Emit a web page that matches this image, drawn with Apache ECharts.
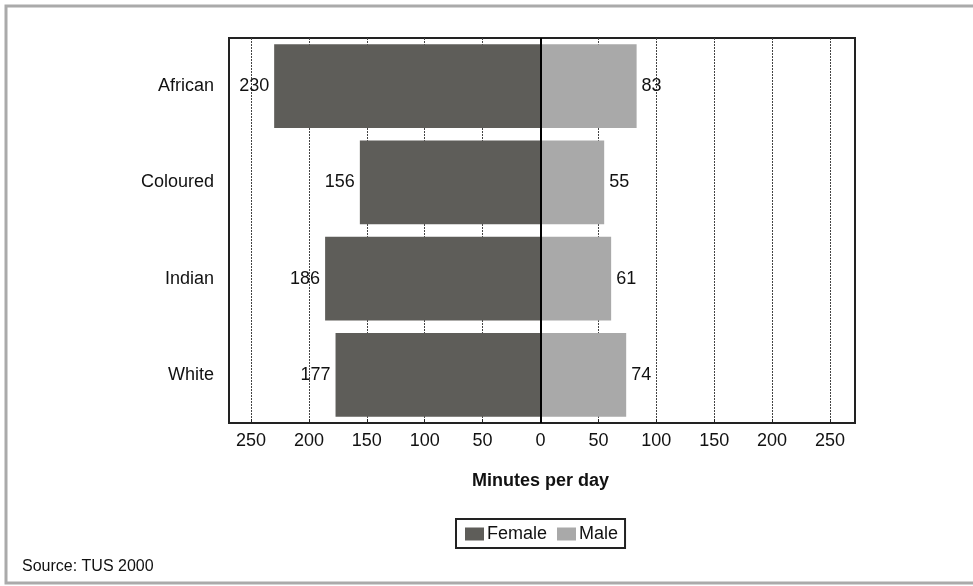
<!DOCTYPE html>
<html>
<head>
<meta charset="utf-8">
<script src="https://cdn.jsdelivr.net/npm/echarts@6/dist/echarts.min.js"></script>
<style>html,body{margin:0;padding:0;background:#fff}#c{width:973px;height:586px}</style>
</head>
<body>
<div id="c"></div>
<script>
const categories = ['African', 'Coloured', 'Indian', 'White'];
const femaleValues = [230, 156, 186, 177];
const maleValues = [83, 55, 61, 74];
const xTicks = [-250, -200, -150, -100, -50, 0, 50, 100, 150, 200, 250];
const axisTitle = 'Minutes per day';
const sourceText = 'Source: TUS 2000';

const FONT = '"Liberation Sans", Arial, sans-serif';
const FS = 18;
const chart = echarts.init(document.getElementById('c'), null, {renderer: 'canvas'});

chart.setOption({
  animation: false,
  textStyle: {fontFamily: FONT},
  grid: [
    {left: 251, top: 38, width: 579, height: 385, show: false},
    {left: 229, top: 38, width: 626, height: 385, show: true, borderColor: '#222', borderWidth: 2, backgroundColor: 'transparent'}
  ],
  xAxis: [
    {
      type: 'value', gridIndex: 0, min: xTicks[0], max: xTicks[xTicks.length - 1], interval: 50,
      axisLine: {show: false},
      axisTick: {show: true, inside: true, length: 4, lineStyle: {color: '#222'}},
      axisLabel: {formatter: v => String(Math.abs(v)), fontSize: FS, color: '#111', margin: 9, fontFamily: FONT},
      splitLine: {show: true, lineStyle: {type: [2, 1], color: '#444', width: 1}},
      name: axisTitle, nameLocation: 'middle', nameGap: 49,
      nameTextStyle: {fontSize: FS, fontWeight: 'bold', color: '#111', fontFamily: FONT}
    },
    {type: 'value', gridIndex: 1, show: false, min: -270, max: 270}
  ],
  yAxis: [
    {type: 'category', gridIndex: 0, data: categories, inverse: true, show: false},
    {
      type: 'category', gridIndex: 1, data: categories, inverse: true,
      axisLine: {show: false}, axisTick: {show: false},
      axisLabel: {fontSize: FS, color: '#111', margin: 15, fontFamily: FONT}
    }
  ],
  legend: {
    data: ['Female', 'Male'],
    left: 456, top: 519,
    borderColor: '#222', borderWidth: 2, padding: [6, 7, 5, 9],
    itemWidth: 19, itemHeight: 13, itemGap: 10,
    textStyle: {fontSize: FS, color: '#111', fontFamily: FONT, padding: [0, 0, 0, -2]},
    icon: 'rect'
  },
  graphic: [
    {type: 'rect', shape: {x: 6, y: 6, width: 1100, height: 577}, style: {fill: 'none', stroke: '#aaaaaa', lineWidth: 3}, silent: true, z: -10},
    {type: 'text', left: 22, top: 559, style: {text: sourceText, fontSize: 16, fill: '#111', fontFamily: FONT}}
  ],
  series: [
    {
      name: 'Female', type: 'bar', xAxisIndex: 0, yAxisIndex: 0,
      data: femaleValues.map(v => -v),
      barCategoryGap: '13%', barGap: '-100%',
      itemStyle: {color: '#5e5d59'},
      label: {show: true, position: 'left', distance: 5, formatter: p => String(Math.abs(p.value)), fontSize: FS, color: '#111', fontFamily: FONT},
      markLine: {
        silent: true, symbol: 'none', label: {show: false},
        lineStyle: {color: '#000', type: 'solid', width: 2},
        data: [{xAxis: 0}]
      }
    },
    {
      name: 'Male', type: 'bar', xAxisIndex: 0, yAxisIndex: 0,
      data: maleValues,
      barCategoryGap: '13%', barGap: '-100%',
      itemStyle: {color: '#a9a9a9'},
      label: {show: true, position: 'right', distance: 5, fontSize: FS, color: '#111', fontFamily: FONT}
    }
  ]
});
</script>
</body>
</html>
